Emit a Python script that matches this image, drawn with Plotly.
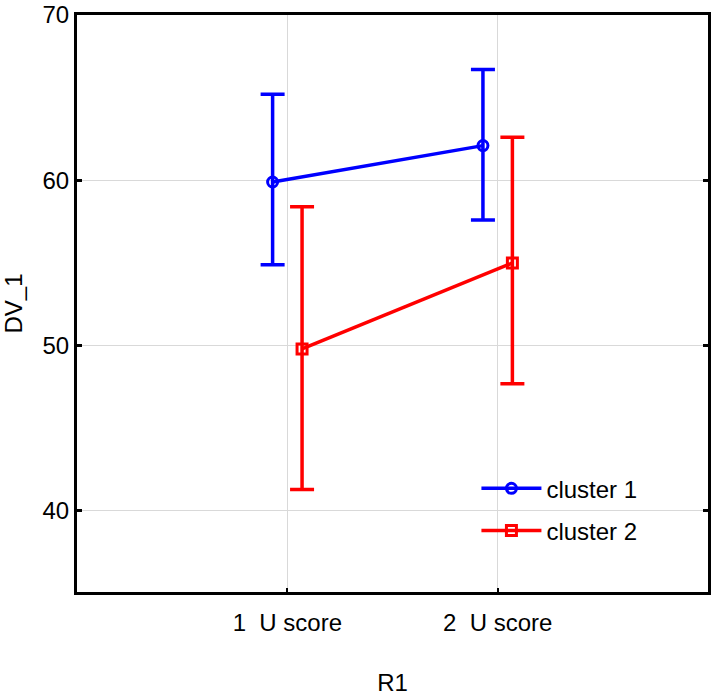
import plotly.graph_objects as go

# data
categories = ["1  U score", "2  U score"]
cat_pos = [1, 2]
c1_mean = [59.9, 62.1]
c1_upper = [65.2, 66.7]
c1_lower = [54.9, 57.6]
c2_mean = [49.8, 55.0]
c2_upper = [58.4, 62.6]
c2_lower = [41.3, 47.7]

FONT = "Liberation Sans Narrow, Arial Narrow, Liberation Sans, Arial, sans-serif"
offset = 0.07


def series(name, mean, upper, lower, color, symbol, shift):
    return go.Scatter(
        x=[p + shift for p in cat_pos], y=mean, name=name,
        legendgroup=name,
        mode="lines+markers",
        line=dict(color=color, width=3.5),
        marker=dict(symbol=symbol, size=10, color=color,
                    line=dict(color=color, width=3)),
        error_y=dict(type="data", symmetric=False,
                     array=[u - m for u, m in zip(upper, mean)],
                     arrayminus=[m - l for m, l in zip(mean, lower)],
                     color=color, thickness=3.5, width=12),
    )


fig = go.Figure()
fig.add_trace(series("cluster 1", c1_mean, c1_upper, c1_lower, "#0000ff", "circle-open", -offset))
fig.add_trace(series("cluster 2", c2_mean, c2_upper, c2_lower, "#ff0000", "square-open", offset))

fig.update_layout(
    width=712, height=696,
    margin=dict(l=77, r=4, t=15, b=104),
    plot_bgcolor="white", paper_bgcolor="white",
    font=dict(family=FONT, size=24, color="black"),
    showlegend=True,
    legend=dict(x=0.633, y=0.218, xanchor="left", yanchor="top",
                bgcolor="rgba(0,0,0,0)", font=dict(size=24),
                itemwidth=60, tracegroupgap=8),
)
fig.update_xaxes(
    range=[0, 3], tickvals=cat_pos, ticktext=categories,
    showline=True, linecolor="black", linewidth=3, mirror=True,
    showgrid=True, gridcolor="#d9d9d9", gridwidth=1,
    ticks="inside", ticklen=4, tickwidth=2, tickcolor="black",
    ticklabelstandoff=7,
    zeroline=False, automargin=False,
    title=dict(text="R1", standoff=50, font=dict(size=24)),
)
fig.update_yaxes(
    range=[35.1, 70], tickvals=[40, 50, 60, 70],
    showline=True, linecolor="black", linewidth=3, mirror="ticks",
    showgrid=True, gridcolor="#d9d9d9", gridwidth=1,
    ticks="inside", ticklen=5, tickwidth=3, tickcolor="black",
    zeroline=False, automargin=False,
    title=dict(text="DV_1", standoff=17, font=dict(size=24)),
)

# drop the default page margin so the figure sits at the window corner
fig.write_html("out.html", config={"displayModeBar": False},
               post_script="document.body.style.margin='0';")
